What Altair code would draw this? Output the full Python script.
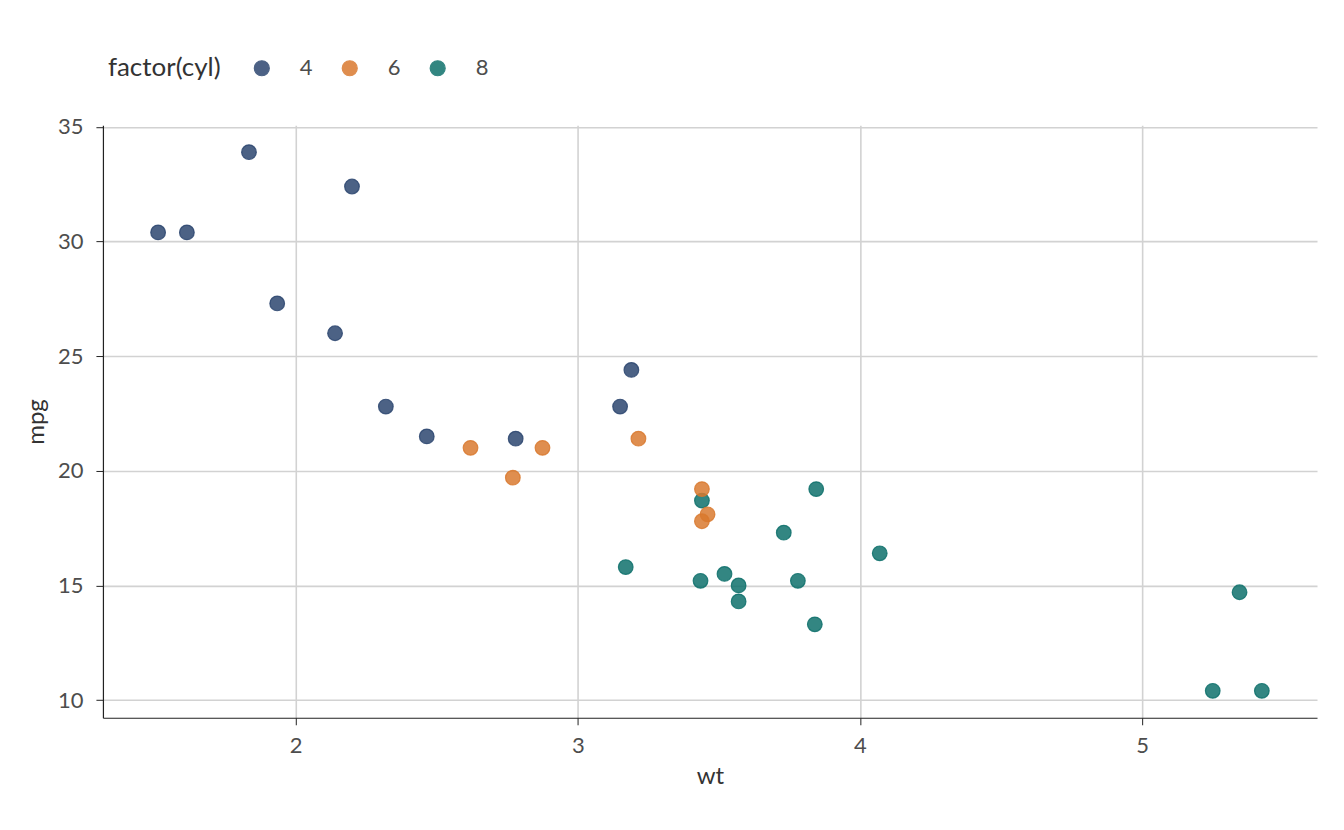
import altair as alt
import pandas as pd

wt = [2.620, 2.875, 2.320, 3.215, 3.440, 3.460, 3.570, 3.190, 3.150, 3.440, 3.440,
      4.070, 3.730, 3.780, 5.250, 5.424, 5.345, 2.200, 1.615, 1.835, 2.465, 3.520,
      3.435, 3.840, 3.845, 1.935, 2.140, 1.513, 3.170, 2.770, 3.570, 2.780]
mpg = [21.0, 21.0, 22.8, 21.4, 18.7, 18.1, 14.3, 24.4, 22.8, 19.2, 17.8,
       16.4, 17.3, 15.2, 10.4, 10.4, 14.7, 32.4, 30.4, 33.9, 21.5, 15.5,
       15.2, 13.3, 19.2, 27.3, 26.0, 30.4, 15.8, 19.7, 15.0, 21.4]
cyl = [6, 6, 4, 6, 8, 6, 8, 4, 4, 6, 6,
       8, 8, 8, 8, 8, 8, 4, 4, 4, 4, 8,
       8, 8, 8, 4, 4, 4, 8, 6, 8, 4]
cyl_levels = ["4", "6", "8"]
colors = ["#2A446E", "#D9782D", "#0C6F6A"]

df = pd.DataFrame({"wt": wt, "mpg": mpg, "cyl": [str(c) for c in cyl]})

FONT = "Lato"

chart = alt.Chart(df).mark_point(
    filled=True, size=215, fillOpacity=0.84, strokeOpacity=0.84, strokeWidth=1.2
).encode(
    x=alt.X("wt:Q", title="wt",
            scale=alt.Scale(domain=[1.3175, 5.6195], nice=False, zero=False),
            axis=alt.Axis(values=[2, 3, 4, 5], format="d", labelPadding=11, titlePadding=8)),
    y=alt.Y("mpg:Q", title="mpg",
            scale=alt.Scale(domain=[9.225, 35.075], nice=False, zero=False),
            axis=alt.Axis(values=[10, 15, 20, 25, 30, 35], labelPadding=13, titlePadding=9)),
    color=alt.Color("cyl:N", title="factor(cyl)",
                    scale=alt.Scale(domain=cyl_levels, range=colors),
                    legend=alt.Legend(orient="none", direction="horizontal",
                                      titleOrient="left", legendX=5, legendY=-68,
                                      symbolType="circle",
                                      symbolOpacity=0.84, symbolSize=225,
                                      symbolStrokeWidth=1.2,
                                      columnPadding=26, labelOffset=27,
                                      titlePadding=30)),
    stroke=alt.Stroke("cyl:N", scale=alt.Scale(domain=cyl_levels, range=colors), legend=None),
).properties(
    width=1215, height=593,
    autosize=alt.AutoSizeParams(type="none"),
    padding={"left": 95, "top": 117, "right": 19, "bottom": 104},
).configure_view(
    stroke=None
).configure_axis(
    labelFont=FONT, titleFont=FONT, labelFontSize=22, titleFontSize=24,
    labelColor="#4d4d4d", titleColor="#333333", titleFontWeight="normal",
    gridColor="#d2d2d2", gridWidth=1.6, domainColor="#222222", domainWidth=1.2,
    tickColor="#222222", tickSize=7,
).configure_legend(
    titleFont=FONT, labelFont=FONT, titleFontSize=26, labelFontSize=22,
    titleColor="#333333", labelColor="#4d4d4d", titleFontWeight="normal",
)

chart.save("out.html", embed_options={"renderer": "svg", "actions": False})
